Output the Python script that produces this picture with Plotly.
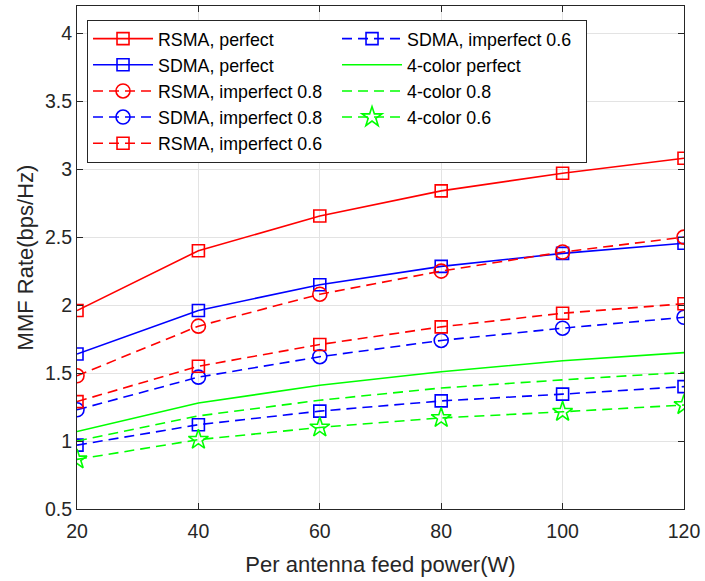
import plotly.graph_objects as go

power = [20, 40, 60, 80, 100, 120]
rsma_perfect = [1.96, 2.40, 2.655, 2.84, 2.97, 3.08]
sdma_perfect = [1.64, 1.96, 2.15, 2.285, 2.38, 2.455]
rsma_08 = [1.48, 1.845, 2.08, 2.25, 2.39, 2.50]
sdma_08 = [1.23, 1.47, 1.62, 1.74, 1.83, 1.91]
rsma_06 = [1.29, 1.55, 1.71, 1.84, 1.94, 2.01]
sdma_06 = [0.97, 1.12, 1.22, 1.295, 1.345, 1.40]
c4_perfect = [1.07, 1.28, 1.41, 1.51, 1.59, 1.65]
c4_08 = [1.00, 1.185, 1.30, 1.39, 1.45, 1.505]
c4_06 = [0.865, 1.01, 1.10, 1.17, 1.215, 1.265]

RED, BLUE, GREEN = "#ff0000", "#0000ff", "#00ff00"
DASH = "10px,6px"

series = [
    # name, y, color, dash, symbol, rank
    ("RSMA, perfect", rsma_perfect, RED, "solid", "square-open", 1),
    ("SDMA, imperfect 0.6", sdma_06, BLUE, DASH, "square-open", 2),
    ("SDMA, perfect", sdma_perfect, BLUE, "solid", "square-open", 3),
    ("4-color perfect", c4_perfect, GREEN, "solid", None, 4),
    ("RSMA, imperfect 0.8", rsma_08, RED, DASH, "circle-open", 5),
    ("4-color 0.8", c4_08, GREEN, DASH, None, 6),
    ("SDMA, imperfect 0.8", sdma_08, BLUE, DASH, "circle-open", 7),
    ("4-color 0.6", c4_06, GREEN, DASH, "star-open", 8),
    ("RSMA, imperfect 0.6", rsma_06, RED, DASH, "square-open", 9),
]

fig = go.Figure()
for name, y, color, dash, symbol, rank in series:
    if symbol:
        size = 12 if symbol.startswith("square") else (14 if symbol.startswith("circle") else 15)
        fig.add_trace(go.Scatter(
            x=power, y=y, name=name, mode="lines+markers",
            line=dict(color=color, width=1.6, dash=dash),
            marker=dict(symbol=symbol, size=size, color=color,
                        line=dict(color=color, width=1.6)),
            legendrank=rank,
        ))
    else:
        fig.add_trace(go.Scatter(
            x=power, y=y, name=name, mode="lines",
            line=dict(color=color, width=1.6, dash=dash),
            legendrank=rank,
        ))

FONT = "Liberation Sans, Arial"
axis_common = dict(
    showgrid=True, gridcolor="#e3e3e3", gridwidth=1,
    showline=True, linecolor="#262626", linewidth=1, mirror="ticks",
    ticks="inside", ticklen=6, tickcolor="#262626",
    tickfont=dict(family=FONT, size=19.5, color="#262626"),
    zeroline=False,
)

fig.update_layout(
    width=705, height=581,
    margin=dict(l=77, r=18, t=5, b=72),
    paper_bgcolor="white", plot_bgcolor="white",
    font=dict(family=FONT, color="#262626"),
    xaxis=dict(range=[20, 120], tickvals=power, ticklabelstandoff=5,
               title=dict(text="Per antenna feed power(W)",
                          font=dict(size=22, color="#262626"), standoff=15),
               **axis_common),
    yaxis=dict(range=[0.5, 4.2], tickvals=[0.5, 1, 1.5, 2, 2.5, 3, 3.5, 4],
               ticktext=["0.5", "1", "1.5", "2", "2.5", "3", "3.5", "4"],
               title=dict(text="MMF Rate(bps/Hz)",
                          font=dict(size=22, color="#262626"), standoff=5),
               **axis_common),
    legend=dict(
        orientation="h", x=0.0165, y=0.973, xanchor="left", yanchor="top",
        bgcolor="white", bordercolor="#262626", borderwidth=1,
        font=dict(family=FONT, size=17.8, color="black"),
        itemwidth=60, entrywidth=174, tracegroupgap=0,
        traceorder="normal",
    ),
    showlegend=True,
)

fig.write_html("out.html")
